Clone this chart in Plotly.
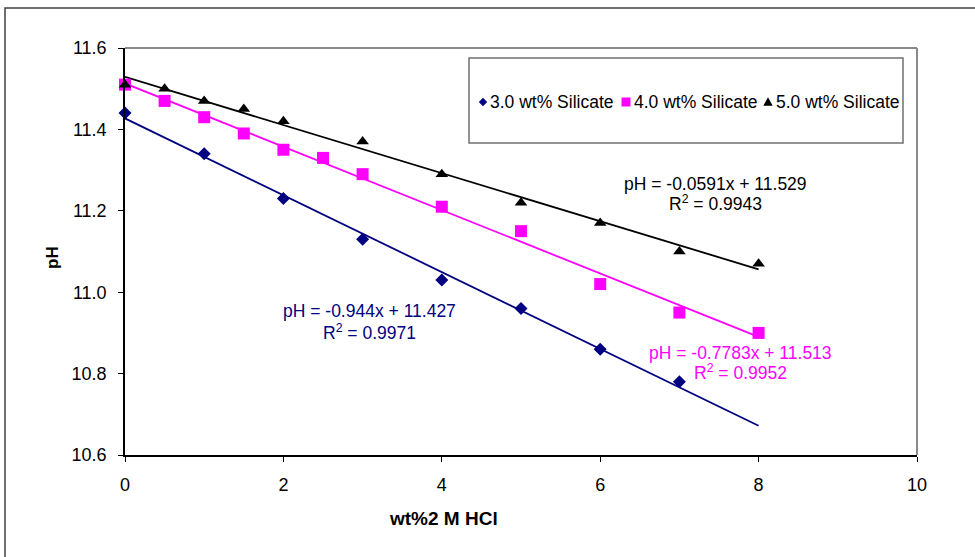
import numpy as np
import plotly.graph_objects as go

# Measured pH after adding 2 M HCl, for three silicate loadings
series_names = ["3.0 wt% Silicate", "4.0 wt% Silicate", "5.0 wt% Silicate"]

hcl_3 = [0, 1, 2, 3, 4, 5, 6, 7]
ph_3 = [11.44, 11.34, 11.23, 11.13, 11.03, 10.96, 10.86, 10.78]

hcl_4 = [0, 0.5, 1, 1.5, 2, 2.5, 3, 4, 5, 6, 7, 8]
ph_4 = [11.51, 11.47, 11.43, 11.39, 11.35, 11.33, 11.29, 11.21, 11.15, 11.02, 10.95, 10.90]

hcl_5 = [0, 0.5, 1, 1.5, 2, 3, 4, 5, 6, 7, 8]
ph_5 = [11.51, 11.50, 11.47, 11.45, 11.42, 11.37, 11.29, 11.22, 11.17, 11.10, 11.07]

# Linear trend lines (slope, intercept) and their printed equations
trend_slope = [-0.0944, -0.07783, -0.0591]
trend_intercept = [11.427, 11.513, 11.529]
trend_x_end = 8
eq_line1 = ["pH = -0.944x + 11.427", "pH = -0.7783x + 11.513", "pH = -0.0591x + 11.529"]
eq_line2 = ["R<sup>2</sup> = 0.9971", "R<sup>2</sup> = 0.9952", "R<sup>2</sup> = 0.9943"]

x_ticks = [0, 2, 4, 6, 8, 10]
y_ticks = [10.6, 10.8, 11.0, 11.2, 11.4, 11.6]

colors = ["#000080", "#FF00FF", "#000000"]
symbols = ["diamond", "square", "triangle-up"]
sizes = [10, 12, 11]
xs = [hcl_3, hcl_4, hcl_5]
ys = [ph_3, ph_4, ph_5]

FONT = "Liberation Sans, Arial, sans-serif"

# plot-area geometry in pixels
W, H = 975, 557
L, R, T, B = 125, 58, 48, 102
PW, PH = W - L - R, H - T - B


def px_x(px):
    return (px - L) / PW


def px_y(py):
    return 1 - (py - T) / PH


fig = go.Figure()

# trend lines
for k in range(3):
    tx = np.array([0, trend_x_end], dtype=float)
    ty = trend_slope[k] * tx + trend_intercept[k]
    fig.add_trace(go.Scatter(
        x=tx, y=ty, mode="lines",
        line=dict(color=colors[k], width=1.8),
        showlegend=False, hoverinfo="skip", cliponaxis=False,
    ))

# measured points
for k in range(3):
    fig.add_trace(go.Scatter(
        x=xs[k], y=ys[k], mode="markers", name=series_names[k],
        marker=dict(symbol=symbols[k], size=sizes[k], color=colors[k],
                    line=dict(width=0)),
        cliponaxis=False, showlegend=False,
    ))

# equation labels (two lines each)
eq_x = [3.09, 7.77, 7.45]
eq_y1 = [10.954, 10.851, 11.266]
eq_y2 = [10.902, 10.804, 11.219]
for k in range(3):
    for txt, yy in ((eq_line1[k], eq_y1[k]), (eq_line2[k], eq_y2[k])):
        fig.add_annotation(
            x=eq_x[k], y=yy, xref="x", yref="y", text=txt, showarrow=False,
            xanchor="center", yanchor="middle",
            font=dict(family=FONT, size=17.5, color=colors[k]),
        )

# outer chart frame
fig.add_shape(type="rect", xref="paper", yref="paper",
              x0=px_x(5), x1=px_x(990), y0=px_y(600), y1=px_y(8),
              line=dict(color="#404040", width=1.5), layer="below")

# top and right borders of the plot area
fig.add_shape(type="line", xref="paper", yref="paper", x0=0, x1=1, y0=1, y1=1,
              line=dict(color="#8a8a8a", width=2))
fig.add_shape(type="line", xref="paper", yref="paper", x0=1, x1=1, y0=0, y1=1,
              line=dict(color="#8a8a8a", width=2))

# legend frame
fig.add_shape(type="rect", xref="paper", yref="paper",
              x0=px_x(469), x1=px_x(903), y0=px_y(143), y1=px_y(58),
              line=dict(color="#707070", width=1.5), fillcolor="white", layer="below")

# legend entries: symbol + label
leg_sym_x = [483, 626, 768]
leg_txt_x = [488, 632, 774]
leg_y = 102
for k in range(3):
    s = 4.5 if k == 1 else 4.2
    cx, cy = leg_sym_x[k], leg_y
    if k == 0:
        path = f"M {px_x(cx)} {px_y(cy - s)} L {px_x(cx + s)} {px_y(cy)} L {px_x(cx)} {px_y(cy + s)} L {px_x(cx - s)} {px_y(cy)} Z"
    elif k == 1:
        path = f"M {px_x(cx - s)} {px_y(cy - s)} L {px_x(cx + s)} {px_y(cy - s)} L {px_x(cx + s)} {px_y(cy + s)} L {px_x(cx - s)} {px_y(cy + s)} Z"
    else:
        path = f"M {px_x(cx)} {px_y(cy - s - 0.5)} L {px_x(cx + s + 0.5)} {px_y(cy + s - 0.5)} L {px_x(cx - s - 0.5)} {px_y(cy + s - 0.5)} Z"
    fig.add_shape(type="path", xref="paper", yref="paper", path=path,
                  fillcolor=colors[k], line=dict(width=0))
    fig.add_annotation(
        x=px_x(leg_txt_x[k]), y=px_y(leg_y), xref="paper", yref="paper",
        text=series_names[k], showarrow=False, xanchor="left", yanchor="middle",
        font=dict(family=FONT, size=17.5, color="black"),
    )

# axis titles
fig.add_annotation(x=px_x(443), y=px_y(518), xref="paper", yref="paper",
                   text="<b>wt%2 M HCl</b>", showarrow=False,
                   xanchor="center", yanchor="middle",
                   font=dict(family=FONT, size=19, color="black"))
fig.add_annotation(x=px_x(52), y=px_y(258), xref="paper", yref="paper",
                   text="<b>pH</b>", showarrow=False, textangle=-90,
                   xanchor="center", yanchor="middle",
                   font=dict(family=FONT, size=17, color="black"))

fig.update_layout(
    width=W, height=H,
    margin=dict(l=L, r=R, t=T, b=B),
    paper_bgcolor="white", plot_bgcolor="white",
    font=dict(family=FONT, size=14, color="black"),
    showlegend=False,
    xaxis=dict(
        range=[0, 10], tickvals=x_ticks, ticktext=[str(v) for v in x_ticks],
        showgrid=False, zeroline=False, showline=True, linecolor="black", linewidth=1.5,
        ticks="outside", ticklen=5, tickcolor="black", tickwidth=1,
        ticklabelstandoff=8,
        tickfont=dict(family=FONT, size=18, color="black"),
    ),
    yaxis=dict(
        range=[10.6, 11.6], tickvals=y_ticks, ticktext=[f"{v:.1f}" for v in y_ticks],
        showgrid=False, zeroline=False, showline=True, linecolor="black", linewidth=1.5,
        ticks="outside", ticklen=5, tickcolor="black", tickwidth=1,
        ticklabelstandoff=8,
        tickfont=dict(family=FONT, size=18, color="black"),
    ),
)

fig.write_html("out.html")
